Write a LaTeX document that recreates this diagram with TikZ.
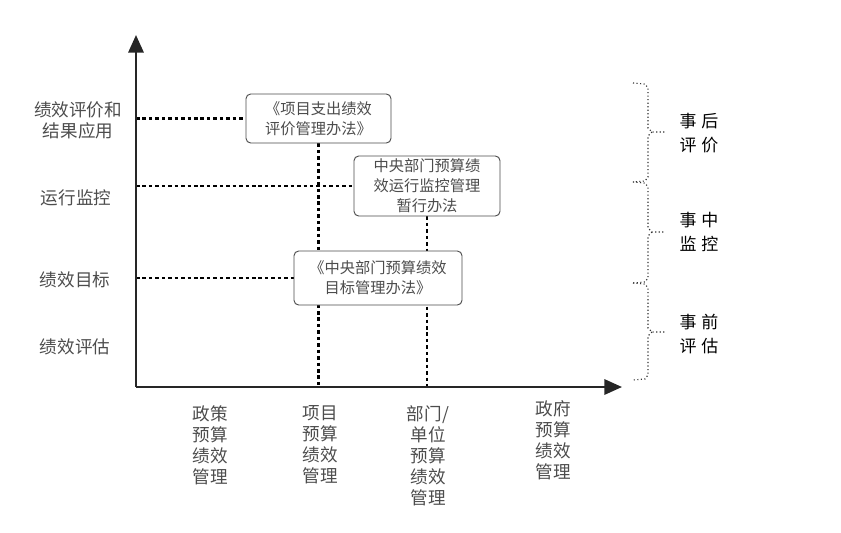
\documentclass[tikz,border=0pt]{standalone}
\usepackage{fontspec}
\setmainfont{Noto Sans CJK SC}
\usetikzlibrary{arrows.meta,backgrounds}

\tikzset{
  law/.style={draw=black!70, fill=white, thick, rounded corners=4pt, align=center, inner sep=0pt,
    text=black!70, font=\fontsize{13pt}{17pt}\selectfont},
  guide/.style={line width=1.8pt, dash pattern=on 3pt off 2.5pt},
  axis/.style={line width=2pt, -{Triangle[length=15pt,width=13pt]}, black!85},
  lbl/.style={align=center, inner sep=0pt, text=black!70, font=\fontsize{15pt}{18pt}\selectfont},
  phase/.style={align=center, inner sep=0pt, font=\fontsize{14.5pt}{21pt}\selectfont},
  brc/.style={dotted, line width=1pt, black!80},
}

\begin{document}
\begin{tikzpicture}[x=0.03cm,y=-0.03cm]
\useasboundingbox (0,0) rectangle (841,533);
% axes
\coordinate (o) at (136,387);
\coordinate (ytop) at (136,35);
\coordinate (xend) at (622,387);
\path[draw,axis] (o) -- (ytop);
\path[draw,axis] (o) -- (xend);

% stage labels
\node[lbl] (pj) at (78,120) {绩效评价和\\结果应用};
\node[lbl] (jk) at (76,198) {运行监控};
\node[lbl] (mb) at (75,280) {绩效目标};
\node[lbl] (pg) at (75,347) {绩效评估};

% level labels
\node[lbl, anchor=north] (zc) at (210,405) {政策\\预算\\绩效\\管理};
\node[lbl, anchor=north] (xm) at (320,405) {项目\\预算\\绩效\\管理};
\node[lbl, anchor=north] (bm) at (428,405) {部门/\\单位\\预算\\绩效\\管理};
\node[lbl, anchor=north] (zf) at (553,400) {政府\\预算\\绩效\\管理};

% regulations
\node[law, minimum width=4.35cm, minimum height=1.47cm] (1) at (318.5,118.5) {《项目支出绩效\\评价管理办法》};
\node[law, minimum width=4.38cm, minimum height=1.8cm] (2) at (427,186) {中央部门预算绩\\效运行监控管理\\暂行办法};
\node[law, minimum width=5.04cm, minimum height=1.62cm] (3) at (378,278) {《中央部门预算绩效\\目标管理办法》};

\begin{scope}[on background layer]
\path[draw,guide] (1.west -| o) -- (1.west);
\path[draw,guide] (2.west -| o) -- (2.west);
\path[draw,guide] (3.west -| o) -- (3.west);
\path[draw,guide] (1.south) -- (1.south |- o);
\path[draw,guide] (2.south) -- (2.south |- o);
\end{scope}

% phases
\foreach \t/\m/\b in {83/132/182, 182/232/283, 283/332/380}{
  \draw[brc] (633,\t) -- (645,\t+1) -- (648,\t+5) -- (648,\m-4) -- (652,\m) -- (665,\m);
  \draw[brc] (652,\m) -- (648,\m+4) -- (648,\b-5) -- (645,\b-1) -- (633,\b);
}
\node[phase] (sh) at (699,133) {事\hspace{4pt}后\\评\hspace{4pt}价};
\node[phase] (sz) at (699,232) {事\hspace{4pt}中\\监\hspace{4pt}控};
\node[phase] (sq) at (699,334) {事\hspace{4pt}前\\评\hspace{4pt}估};
\end{tikzpicture}
\end{document}
